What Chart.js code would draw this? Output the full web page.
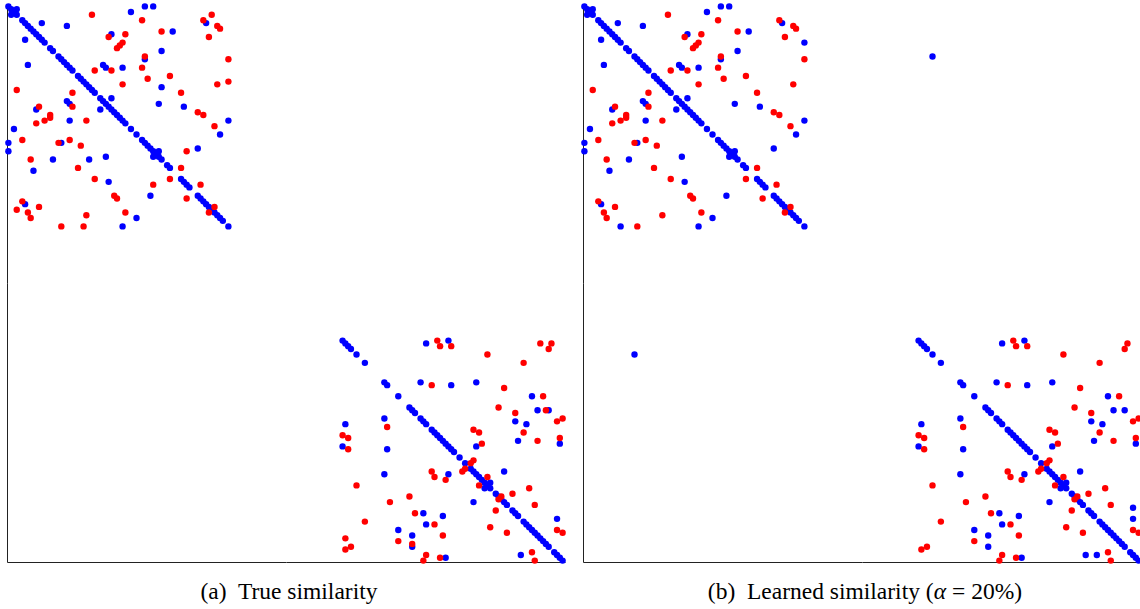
<!DOCTYPE html>
<html>
<head>
<meta charset="utf-8">
<script src="https://cdn.jsdelivr.net/npm/chart.js"></script>
<style>
  html, body { margin: 0; padding: 0; background: #fff; overflow: hidden; }
  body { width: 1140px; height: 609px; position: relative; }
  .panel { position: absolute; top: 0; width: 572px; height: 570px; }
  .caption {
    position: absolute; top: 577px; font-family: "Liberation Serif", "Times New Roman", serif;
    font-size: 23.5px; line-height: 28px; color: #000; white-space: pre; transform: translateX(-50%);
  }
  .eq { padding: 0 6px; }
</style>
</head>
<body>
<div class="panel" style="left:0px"><canvas id="panelA"></canvas></div>
<div class="panel" style="left:576px"><canvas id="panelB"></canvas></div>
<div class="caption" style="left:289px">(a)  True similarity</div>
<div class="caption" style="left:865px">(b)  Learned similarity (<i>α</i><span class="eq">=</span>20%)</div>
<script>
// matrix is 200 x 200, two clusters: 0-79 and 120-199
// diagonal entries that are shown (same in both panels)
const diagCluster1 = [0, 1, 2, 3, 5, 6, 7, 8, 9, 10, 11, 12, 13, 15, 16, 18, 19, 20, 21, 22, 23,
  25, 26, 27, 28, 29, 30, 31, 33, 34, 35, 36, 37, 38, 39, 40, 41, 42, 44, 46,
  48, 49, 50, 51, 52, 53, 54, 55, 57, 58, 62, 63, 64, 65,
  68, 69, 70, 71, 72, 73, 74, 75, 76, 77, 79];
const diagCluster2 = [120, 121, 122, 123, 125, 128, 135, 136, 140, 144, 145, 146, 148, 149, 150,
  152, 153, 154, 155, 156, 157, 158, 159, 160, 162, 164, 166, 167, 168, 169, 170, 171, 172, 173,
  175, 176, 177, 178, 179, 181, 182, 183, 185, 186, 187, 188, 189, 190, 191, 192, 193, 194,
  196, 197, 198, 199];

// off-diagonal entries of the true similarity, [column, row]
const bluePairs = [
  [3, 1], [1, 3], [49, 0], [52, 0], [44, 2], [71, 6], [12, 6], [21, 7], [59, 9], [37, 10], [6, 12],
  [55, 16], [49, 19], [7, 21], [34, 21], [35, 22], [41, 22], [55, 29], [21, 34], [22, 35], [37, 33],
  [54, 35], [63, 36], [10, 37], [33, 37], [22, 41], [79, 41], [2, 44], [76, 46], [19, 49], [0, 49],
  [0, 52], [68, 51], [54, 52], [52, 54], [16, 55], [29, 55], [35, 54], [9, 59], [36, 63], [51, 68],
  [6, 71], [46, 76], [41, 79],
  [150, 121], [158, 120], [148, 135], [159, 136], [168, 135], [188, 140], [190, 145], [194, 145],
  [121, 150], [135, 148], [182, 149], [186, 150], [183, 156], [198, 157], [120, 158], [136, 159],
  [168, 158], [135, 168], [158, 168], [178, 167], [173, 171], [171, 173], [167, 178], [149, 182],
  [156, 183], [150, 186], [197, 184], [140, 188], [145, 190], [145, 194], [184, 197], [157, 198]
];
const redPairs = [
  [30, 3], [73, 3], [70, 5], [48, 5], [75, 7], [76, 8], [55, 9], [72, 11], [36, 11], [42, 10],
  [41, 13], [39, 15], [40, 14], [49, 18], [79, 19], [31, 23], [37, 23], [48, 22], [50, 26], [58, 25],
  [75, 28], [79, 27], [41, 28], [3, 30], [23, 31], [62, 31], [11, 36], [23, 36], [68, 38], [70, 39],
  [15, 39], [15, 40], [13, 41], [28, 41], [10, 42], [74, 43], [5, 48], [22, 48], [18, 49], [26, 50],
  [64, 52], [8, 55], [25, 58], [62, 58], [58, 62], [31, 62], [52, 64], [69, 64], [38, 68], [39, 69],
  [64, 69], [5, 70], [3, 73], [11, 72], [7, 74], [8, 76], [74, 72], [72, 74], [42, 74], [28, 75],
  [19, 79], [27, 79],
  [154, 120], [155, 122], [159, 122], [191, 121], [195, 121], [194, 123], [172, 125], [185, 128],
  [152, 136], [178, 137], [192, 140], [176, 144], [193, 145], [182, 146], [136, 151], [197, 149],
  [199, 148], [185, 153], [167, 152], [169, 153], [120, 154], [122, 155], [190, 156], [198, 155],
  [122, 159], [170, 157], [167, 163], [166, 164], [164, 166], [163, 167], [152, 167], [153, 169],
  [157, 170], [172, 169], [169, 172], [125, 172], [181, 175], [187, 173], [176, 177], [177, 176],
  [137, 178], [144, 176], [189, 179], [175, 181], [146, 182], [153, 186], [128, 185], [173, 187],
  [179, 189], [197, 188], [199, 189], [156, 190], [140, 192], [121, 191], [121, 195], [123, 194],
  [145, 193], [150, 197], [149, 199], [155, 198], [188, 196], [189, 199]
];

// learned similarity: entries that are lost, and extra blue entries
const missingInLearned = [
  [73, 3], [3, 73], [79, 27], [27, 79], [55, 29], [29, 55], [64, 52], [52, 64],
  [191, 121], [121, 191], [193, 145], [145, 193]
];
const extraBlueLearned = [[79, 13], [13, 79], [125, 18], [18, 125], [180, 197], [197, 180]];

const toPoint = p => ({ x: p[0], y: p[1] });
const keep = p => !missingInLearned.some(m => m[0] === p[0] && m[1] === p[1]);
const diagPoints = diagCluster1.concat(diagCluster2).map(i => ({ x: i, y: i }));

const spines = {
  id: 'spines',
  beforeDatasetsDraw(chart) {
    const { ctx, chartArea: a } = chart;
    ctx.save();
    ctx.strokeStyle = '#222';
    ctx.lineWidth = 1;
    ctx.beginPath();
    ctx.moveTo(a.left + 0.5, a.top);
    ctx.lineTo(a.left + 0.5, a.bottom + 0.5);
    ctx.lineTo(a.right + 1.5, a.bottom + 0.5);
    ctx.stroke();
    ctx.restore();
  }
};

function makeChart(id, blue, red) {
  const dot = color => ({
    pointRadius: 3.2,
    pointBorderWidth: 0,
    pointBackgroundColor: color,
    showLine: false,
    clip: false
  });
  new Chart(document.getElementById(id), {
    type: 'scatter',
    data: {
      datasets: [
        Object.assign({ data: red.map(toPoint) }, dot('#ff0000')),
        Object.assign({ data: diagPoints.concat(blue.map(toPoint)) }, dot('#0000ff'))
      ]
    },
    options: {
      responsive: true,
      maintainAspectRatio: false,
      animation: false,
      events: [],
      layout: { padding: { left: 7, top: 5, right: 8, bottom: 8 } },
      plugins: { legend: { display: false }, tooltip: { enabled: false } },
      scales: {
        x: { type: 'linear', min: -0.5, max: 199.5, display: false },
        y: { type: 'linear', min: -0.5, max: 199.5, reverse: true, display: false }
      }
    },
    plugins: [spines]
  });
}

makeChart('panelA', bluePairs, redPairs);
makeChart('panelB', bluePairs.filter(keep).concat(extraBlueLearned), redPairs.filter(keep));
</script>
</body>
</html>
